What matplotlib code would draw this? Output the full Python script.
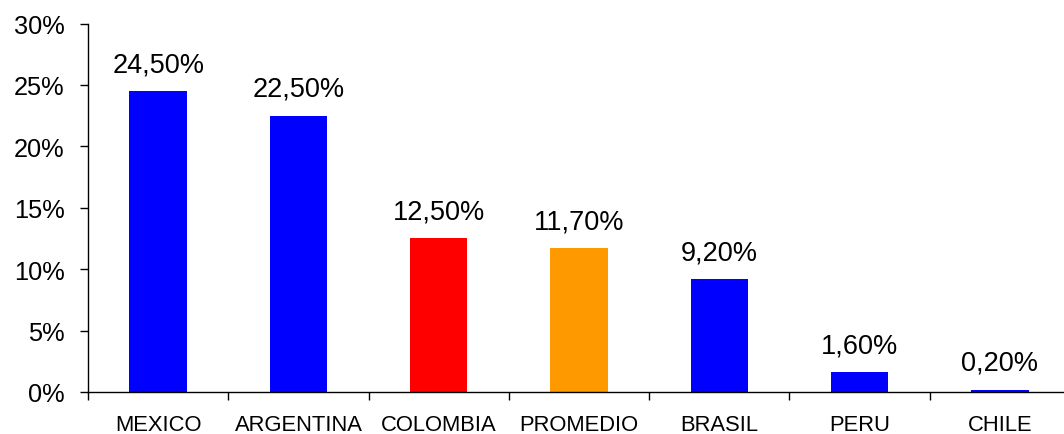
import matplotlib
matplotlib.use("Agg")
import matplotlib.pyplot as plt
from matplotlib.ticker import FixedLocator, PercentFormatter

plt.rcParams['font.family'] = ['Liberation Sans', 'DejaVu Sans']

categories = ["MEXICO", "ARGENTINA", "COLOMBIA", "PROMEDIO", "BRASIL", "PERU", "CHILE"]
values = [24.5, 22.5, 12.5, 11.7, 9.2, 1.6, 0.2]
labels = ["24,50%", "22,50%", "12,50%", "11,70%", "9,20%", "1,60%", "0,20%"]
colors = ["#0000FF", "#0000FF", "#FF0000", "#FF9900", "#0000FF", "#0000FF", "#0000FF"]

fig = plt.figure(figsize=(10.64, 4.35), dpi=100)
ax = fig.add_axes([88/1064, 42/435, 982/1064, 368.5/435])

x = list(range(len(categories)))
bars = ax.bar(x, values, width=0.41, color=colors, zorder=2)

for xi, v, lab in zip(x, values, labels):
    ax.annotate(lab, (xi, v), xytext=(0, 10), textcoords="offset points",
                ha="center", va="bottom", fontsize=19.5, color="black")

ax.set_xlim(-0.5, len(categories) - 0.5)
ax.set_ylim(0, 30)
ax.set_yticks([0, 5, 10, 15, 20, 25, 30])
ax.yaxis.set_major_formatter(PercentFormatter(decimals=0))
ax.tick_params(axis='y', labelsize=18.3, length=6, width=1, direction='out', pad=11)

ax.xaxis.set_major_locator(FixedLocator([i - 0.5 for i in range(len(categories) + 1)]))
ax.xaxis.set_major_formatter(plt.NullFormatter())
ax.xaxis.set_minor_locator(FixedLocator(x))
ax.set_xticklabels(categories, minor=True)
ax.tick_params(axis='x', which='major', length=5.5, width=1, direction='out')
ax.tick_params(axis='x', which='minor', length=0, labelsize=15.8, pad=16)

for s in ["top", "right"]:
    ax.spines[s].set_visible(False)
for s in ["left", "bottom"]:
    ax.spines[s].set_linewidth(1)
    ax.spines[s].set_color("black")

fig.savefig("out.png", dpi=100)
